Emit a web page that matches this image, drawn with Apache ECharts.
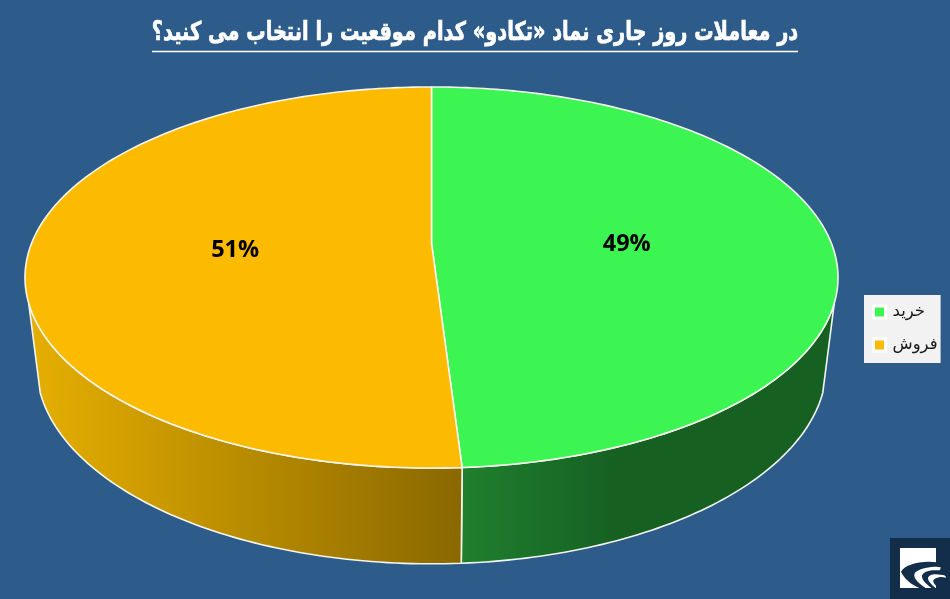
<!DOCTYPE html>
<html>
<head>
<meta charset="utf-8">
<style>html,body{margin:0;padding:0;background:#2D5B8A}#c{width:950px;height:599px}</style>
<script src="https://cdn.jsdelivr.net/npm/echarts@6/dist/echarts.min.js"></script>
</head>
<body>
<div id="c" dir="rtl"></div>
<script>
const titleText = 'در معاملات روز جاری نماد «تکادو» کدام موقعیت را انتخاب می کنید؟';
const categories = ['خرید', 'فروش'];
const values = [49, 51];
const topColors = ['#3CF552', '#FDBB00'];
const sideStops = [
  [[0, '#1F802F'], [0.42, '#166022'], [1, '#166022']],
  [[0, '#E6AF00'], [1, '#8A6800']]
];
const total = values.reduce((a, b) => a + b, 0);

// Perspective projection of the disc: near edge looks larger than far edge
const persp = 0.181;
const cx = 431.5;
const topPlane = { y: 243, R: 399.8, Rk: 184.3 };
const botPlane = { y: 330, R: 388.4, Rk: 191.5 };
const sideFrom = 108, sideTo = 252;   // visible side silhouette, degrees clockwise from top
const project = (deg, r, pl) => {
  const a = deg * Math.PI / 180, u = r * Math.sin(a), v = -r * Math.cos(a), w = 1 - persp * v;
  return [cx + pl.R * u / w, pl.y + pl.Rk * v / w];
};
const arc = (a0, a1, pl) => {
  const pts = [], n = Math.max(2, Math.ceil(Math.abs(a1 - a0)));
  for (let i = 0; i <= n; i++) pts.push(project(a0 + (a1 - a0) * i / n, 1, pl));
  return pts;
};
const edge = { stroke: '#F4F6EE', lineWidth: 1.6, lineJoin: 'round' };

const makeRender = idx => () => {
  const start = values.slice(0, idx).reduce((a, b) => a + b, 0) / total * 360;
  const end = start + values[idx] / total * 360;
  const mid = (start + end) / 2;
  const s0 = Math.max(start, sideFrom), s1 = Math.min(end, sideTo);
  const sidePts = arc(s0, s1, topPlane).concat(arc(s1, s0, botPlane));
  const topPts = [[cx, topPlane.y]].concat(arc(start, end, topPlane));
  const lp = project(mid, 0.49, topPlane);
  return {
    type: 'group',
    children: [
      { type: 'polygon', z2: 1, shape: { points: sidePts },
        style: Object.assign({ fill: new echarts.graphic.LinearGradient(0, 0, 1, 0,
          sideStops[idx].map(s => ({ offset: s[0], color: s[1] }))) }, edge) },
      { type: 'polygon', z2: 5, shape: { points: topPts },
        style: Object.assign({ fill: topColors[idx] }, edge) },
      { type: 'text', z2: 9,
        style: { text: Math.round(values[idx] / total * 100) + '%', x: lp[0], y: lp[1] + 4,
          textAlign: 'center', textVerticalAlign: 'middle', fill: '#000',
          font: 'bold 23.5px "Open Sans"' } }
    ]
  };
};

const logoDark = '#132E4A';
const logoPaths = [
  ['M140,82 C95,76 45,88 33,110 C42,130 62,148 90,160 L108,160 C80,142 66,125 76,112 C90,100 120,95 140,95 Z', logoDark],
  ['M140,106 C118,104 94,112 96,126 C98,138 112,150 126,160 L138,160 C124,148 112,136 114,128 C120,118 130,118 140,118 Z', logoDark],
  ['M138,95 L152,97 L150,106 L138,106 Z M138,118 L158,120 C165,121 168,124 168,128 C155,124 145,126 138,130 Z', '#fff'],
  ['M138,130 C128,134 126,140 138,152 Z', logoDark]
];

const chart = echarts.init(document.getElementById('c'), null, { renderer: 'canvas' });
chart.setOption({
  animation: false,
  backgroundColor: '#2D5B8A',
  legend: {
    orient: 'vertical', left: 864, top: 295,
    data: categories, backgroundColor: '#F2F2F2', borderRadius: 0,
    padding: [8.5, 3, 9.5, 8], itemGap: 16, itemWidth: 12, itemHeight: 12, icon: 'rect',
    itemStyle: { borderColor: '#fff', borderWidth: 3 },
    selectedMode: false, align: 'left',
    textStyle: { color: '#1a1a1a', fontFamily: 'DejaVu Sans', fontSize: 16.5, padding: [6, 0, 0, 2] }
  },
  series: categories.map((name, i) => ({
    type: 'custom', name, coordinateSystem: 'none', silent: true,
    itemStyle: { color: topColors[i] },
    data: [values[i]], renderItem: makeRender(i)
  })).concat([{
    type: 'custom', name: 'logo', coordinateSystem: 'none', silent: true, z: 5, data: [0],
    renderItem: () => ({
      type: 'group',
      children: [
        { type: 'rect', shape: { x: 890, y: 538, width: 60, height: 61 }, style: { fill: logoDark } },
        { type: 'rect', shape: { x: 900, y: 548, width: 36, height: 40 }, style: { fill: '#fff' } }
      ].concat(logoPaths.map(p => ({
        type: 'path', x: 890, y: 535, scaleX: 1 / 3, scaleY: 1 / 3,
        shape: { pathData: p[0] }, style: { fill: p[1] }
      })))
    })
  }]),
  graphic: [
    { type: 'text', x: 475, y: 33.5, scaleX: 0.75, silent: true,
      style: { text: titleText, textAlign: 'center', textVerticalAlign: 'middle', fill: '#fff',
        stroke: '#fff', lineWidth: 0.7, font: 'bold 25.8px "DejaVu Sans"' } },
    { type: 'line', shape: { x1: 152, y1: 51.5, x2: 798, y2: 51.5 }, style: { stroke: '#fff', lineWidth: 1.5 }, silent: true }
  ]
});
</script>
</body>
</html>
